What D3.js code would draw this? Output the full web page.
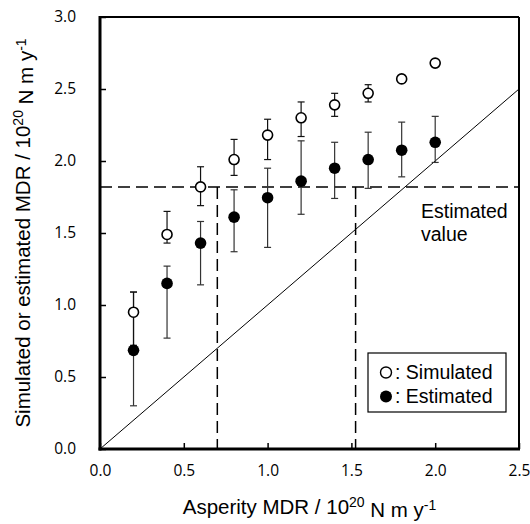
<!DOCTYPE html>
<html>
<head>
<meta charset="utf-8">
<script src="https://cdn.jsdelivr.net/npm/d3@7"></script>
<style>
  body { margin: 0; background: #fff; }
  svg { display: block; }
  .tick-label { font-family: "Open Sans", sans-serif; font-size: 15.5px; fill: #000; }
  .title { font-family: "Liberation Sans", Arial, sans-serif; font-size: 19.5px; fill: #000; }
  .axis-title { font-family: "Liberation Sans", Arial, sans-serif; font-size: 20.5px; fill: #000; }
</style>
</head>
<body>
<svg id="chart" width="530" height="524"></svg>
<script>
// asperity MDR (x) for every run
const asperity = [0.2, 0.4, 0.6, 0.8, 1.0, 1.2, 1.4, 1.6, 1.8, 2.0];

// simulated MDR and its range (null = no bar drawn)
const simulated   = [0.95, 1.49, 1.82, 2.01, 2.18, 2.30, 2.39, 2.47, 2.57, 2.68];
const simulatedHi = [1.09, 1.65, 1.96, 2.15, 2.29, 2.41, 2.47, 2.53, null, null];
const simulatedLo = [0.72, 1.43, 1.69, 1.90, 2.01, 2.17, 2.31, 2.41, null, null];

// estimated MDR and its range
const estimated   = [0.685, 1.15, 1.43, 1.61, 1.745, 1.86, 1.95, 2.01, 2.075, 2.13];
const estimatedHi = [1.09, 1.27, 1.58, 1.80, 1.95, 2.14, 2.13, 2.20, 2.27, 2.31];
const estimatedLo = [0.30, 0.77, 1.14, 1.37, 1.40, 1.63, 1.74, 1.81, 1.89, 1.99];

// the estimated value and where it crosses back onto the x axis
const estimatedValue = 1.82;
const estimatedRange = [0.70, 1.525];

const xTicks = [0, 0.5, 1.0, 1.5, 2.0, 2.5];
const yTicks = [0, 0.5, 1.0, 1.5, 2.0, 2.5, 3.0];

const svg = d3.select("#chart");
const margin = { top: 17, right: 11, bottom: 75, left: 100 };
const width = 530 - margin.left - margin.right;
const height = 524 - margin.top - margin.bottom;

const x = d3.scaleLinear().domain([0, 2.5]).range([0, width]);
const y = d3.scaleLinear().domain([0, 3.0]).range([height, 0]);

const g = svg.append("g").attr("transform", `translate(${margin.left},${margin.top})`);

// 1:1 line
g.append("line")
  .attr("x1", x(0)).attr("y1", y(0))
  .attr("x2", x(2.5)).attr("y2", y(2.5))
  .attr("stroke", "#000").attr("stroke-width", 1);

// dashed guides for the estimated value
const dash = "12,6";
g.append("line")
  .attr("x1", x(0)).attr("x2", x(2.5))
  .attr("y1", y(estimatedValue)).attr("y2", y(estimatedValue))
  .attr("stroke", "#000").attr("stroke-width", 1.5).attr("stroke-dasharray", dash);
g.selectAll(".vguide").data(estimatedRange).join("line")
  .attr("class", "vguide")
  .attr("x1", d => x(d)).attr("x2", d => x(d))
  .attr("y1", y(estimatedValue)).attr("y2", y(0))
  .attr("stroke", "#000").attr("stroke-width", 1.5).attr("stroke-dasharray", dash);

// error bars
const drawBars = (cls, lo, hi, color) => {
  const rows = asperity.map((a, i) => ({ a, lo: lo[i], hi: hi[i] })).filter(d => d.lo != null);
  const bar = g.selectAll("." + cls).data(rows).join("g").attr("class", cls)
    .attr("stroke", color).attr("stroke-width", 1.2);
  bar.append("line")
    .attr("x1", d => x(d.a)).attr("x2", d => x(d.a))
    .attr("y1", d => y(d.lo)).attr("y2", d => y(d.hi));
  bar.append("line")
    .attr("x1", d => x(d.a) - 3.5).attr("x2", d => x(d.a) + 3.5)
    .attr("y1", d => y(d.hi)).attr("y2", d => y(d.hi));
  bar.append("line")
    .attr("x1", d => x(d.a) - 3.5).attr("x2", d => x(d.a) + 3.5)
    .attr("y1", d => y(d.lo)).attr("y2", d => y(d.lo));
};
drawBars("est-bar", estimatedLo, estimatedHi, "#333");
drawBars("sim-bar", simulatedLo, simulatedHi, "#111");

// points
g.selectAll(".sim").data(asperity).join("circle")
  .attr("class", "sim")
  .attr("cx", d => x(d)).attr("cy", (d, i) => y(simulated[i]))
  .attr("r", 5).attr("fill", "#fff").attr("stroke", "#000").attr("stroke-width", 1.6);
g.selectAll(".est").data(asperity).join("circle")
  .attr("class", "est")
  .attr("cx", d => x(d)).attr("cy", (d, i) => y(estimated[i]))
  .attr("r", 5.8).attr("fill", "#000");

// axes, ticks point inward
const xAxis = g.append("g").attr("transform", `translate(0,${height})`)
  .call(d3.axisBottom(x).tickValues(xTicks).tickSizeInner(-6).tickSizeOuter(0).tickPadding(14)
    .tickFormat(d3.format(".1f")));
xAxis.select(".domain").remove();
xAxis.selectAll(".tick line").attr("stroke-width", 1.5);
xAxis.selectAll("text").attr("class", "tick-label").attr("dy", "0.71em").attr("y", 16);

const yAxis = g.append("g")
  .call(d3.axisLeft(y).tickValues(yTicks).tickSizeInner(-6).tickSizeOuter(0).tickPadding(24)
    .tickFormat(d3.format(".1f")));
yAxis.select(".domain").remove();
yAxis.selectAll(".tick line").attr("stroke-width", 1.5);
yAxis.selectAll("text").attr("class", "tick-label");

// frame
g.append("line").attr("x1", 0).attr("x2", width).attr("y1", 0).attr("y2", 0)
  .attr("stroke", "#000").attr("stroke-width", 2);
g.append("line").attr("x1", width).attr("x2", width).attr("y1", 0).attr("y2", height)
  .attr("stroke", "#000").attr("stroke-width", 2);
g.append("line").attr("x1", 0).attr("x2", 0).attr("y1", -1).attr("y2", height + 1.5)
  .attr("stroke", "#000").attr("stroke-width", 3);
g.append("line").attr("x1", -1.5).attr("x2", width + 1).attr("y1", height).attr("y2", height)
  .attr("stroke", "#000").attr("stroke-width", 3);

// "Estimated value" note
const note = g.append("text").attr("class", "title");
note.append("tspan").attr("x", 321).attr("y", 201).text("Estimated");
note.append("tspan").attr("x", 321).attr("y", 224).text("value");

// legend
const legend = g.append("g").attr("transform", "translate(268,336)");
legend.append("rect").attr("width", 138).attr("height", 59)
  .attr("fill", "#fff").attr("stroke", "#000").attr("stroke-width", 1.2);
legend.append("circle").attr("cx", 18).attr("cy", 19.5).attr("r", 5.5)
  .attr("fill", "#fff").attr("stroke", "#000").attr("stroke-width", 1.4);
legend.append("circle").attr("cx", 18).attr("cy", 43.5).attr("r", 6).attr("fill", "#000");
legend.append("text").attr("class", "title").attr("x", 27).attr("y", 26).text(": Simulated");
legend.append("text").attr("class", "title").attr("x", 27).attr("y", 50).text(": Estimated");

// axis titles with superscripts
const unit = (sel) => {
  sel.append("tspan").text("MDR / 10");
  sel.append("tspan").attr("font-size", "14px").attr("dy", "-0.5em").text("20");
  sel.append("tspan").attr("dy", "0.5em").text(" N m y");
  sel.append("tspan").attr("font-size", "14px").attr("dy", "-0.5em").text("-1");
};
const xt = svg.append("text").attr("class", "axis-title").attr("text-anchor", "middle")
  .attr("x", margin.left + width / 2).attr("y", 514);
xt.append("tspan").text("Asperity ");
unit(xt);

const yt = svg.append("text").attr("class", "axis-title").attr("text-anchor", "middle")
  .attr("transform", `translate(30,${margin.top + height / 2}) rotate(-90)`);
yt.append("tspan").text("Simulated or estimated ");
unit(yt);
</script>
</body>
</html>
